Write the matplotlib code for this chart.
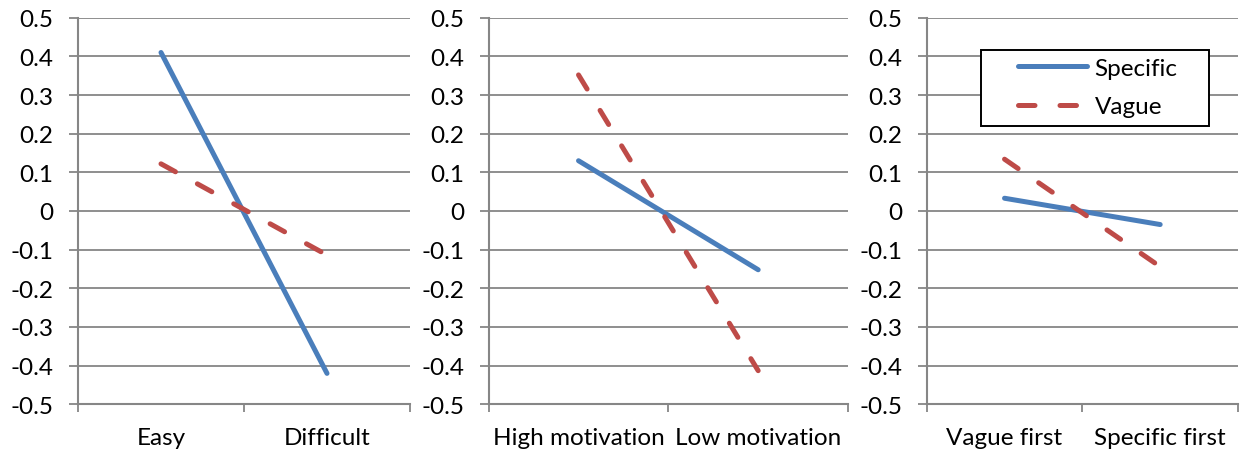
import matplotlib
matplotlib.use("Agg")
import matplotlib.pyplot as plt
from matplotlib.lines import Line2D
from matplotlib.patches import Rectangle

plt.rcParams['font.family'] = ['Lato', 'DejaVu Sans']

# data
panel_categories = [
    ["Easy", "Difficult"],
    ["High motivation", "Low motivation"],
    ["Vague first", "Specific first"],
]
specific_vals = [
    [0.41, -0.42],
    [0.13, -0.152],
    [0.033, -0.035],
]
vague_vals = [
    [0.122, -0.114],
    [0.352, -0.413],
    [0.134, -0.144],
]
y_ticks = [-0.5, -0.4, -0.3, -0.2, -0.1, 0, 0.1, 0.2, 0.3, 0.4, 0.5]
y_labels = ["-0.5", "-0.4", "-0.3", "-0.2", "-0.1", "0", "0.1", "0.2", "0.3", "0.4", "0.5"]

BLUE = '#4A7EBB'
RED = '#BE4B48'
GRID = '#868686'
W, H = 1244, 456
LW = 3.6
DASH = (3.3, 5.0)
FS = 17.5

fig = plt.figure(figsize=(W / 100, H / 100), dpi=100)

# axes boxes in pixels: (left, right)
boxes = [(78, 410), (488.7, 848), (926.7, 1238)]
top_px, bot_px = 18.7, 405.3

axes = []
for i, (l, r) in enumerate(boxes):
    ax = fig.add_axes([l / W, 1 - bot_px / H, (r - l) / W, (bot_px - top_px) / H])
    axes.append(ax)
    xs = [0.5, 1.5]
    ax.plot(xs, specific_vals[i], color=BLUE, lw=LW, solid_capstyle='round', zorder=3)
    ax.plot(xs, vague_vals[i], color=RED, lw=LW, dashes=DASH,
            dash_capstyle='round', zorder=3)
    ax.set_xlim(0, 2)
    ax.set_ylim(-0.5, 0.5)
    ax.set_yticks(y_ticks)
    ax.set_yticklabels(y_labels)
    ax.set_xticks([0, 1, 2])
    ax.set_xticklabels([])
    ax.set_xticks(xs, minor=True)
    ax.set_xticklabels(panel_categories[i], minor=True)
    ax.tick_params(axis='x', which='major', length=6, width=1.3, color=GRID, direction='out')
    ax.tick_params(axis='x', which='minor', length=0, pad=16, labelsize=FS)
    ax.tick_params(axis='y', length=6.5, width=1.3, color=GRID, pad=11, labelsize=FS)
    ax.grid(axis='y', color=GRID, lw=1.3, zorder=0)
    ax.set_axisbelow(True)
    for s in ['top', 'right']:
        ax.spines[s].set_visible(False)
    for s in ['left', 'bottom']:
        ax.spines[s].set_color(GRID)
        ax.spines[s].set_linewidth(1.5)

# legend: white box with black border, entries placed inside without frame
box_l, box_t, box_r, box_b = 981, 50.7, 1208.7, 126.7
axes[2].add_patch(Rectangle((box_l / W, 1 - box_b / H), (box_r - box_l) / W, (box_b - box_t) / H,
                            transform=fig.transFigure, facecolor='white', edgecolor='black',
                            lw=1.4, zorder=5, clip_on=False))
handles = [
    Line2D([], [], color=BLUE, lw=LW, solid_capstyle='round'),
    Line2D([], [], color=RED, lw=LW, dashes=DASH, dash_capstyle='round'),
]
leg = axes[2].legend(handles, ["Specific", "Vague"], loc='center left',
                     bbox_to_anchor=(1018 / W, 1 - 88.5 / H), bbox_transform=fig.transFigure,
                     fontsize=FS, frameon=False, handlelength=2.85, handletextpad=0.3,
                     borderpad=0, labelspacing=0.72, borderaxespad=0)
leg.set_zorder(6)

fig.savefig('out.png', dpi=100)
